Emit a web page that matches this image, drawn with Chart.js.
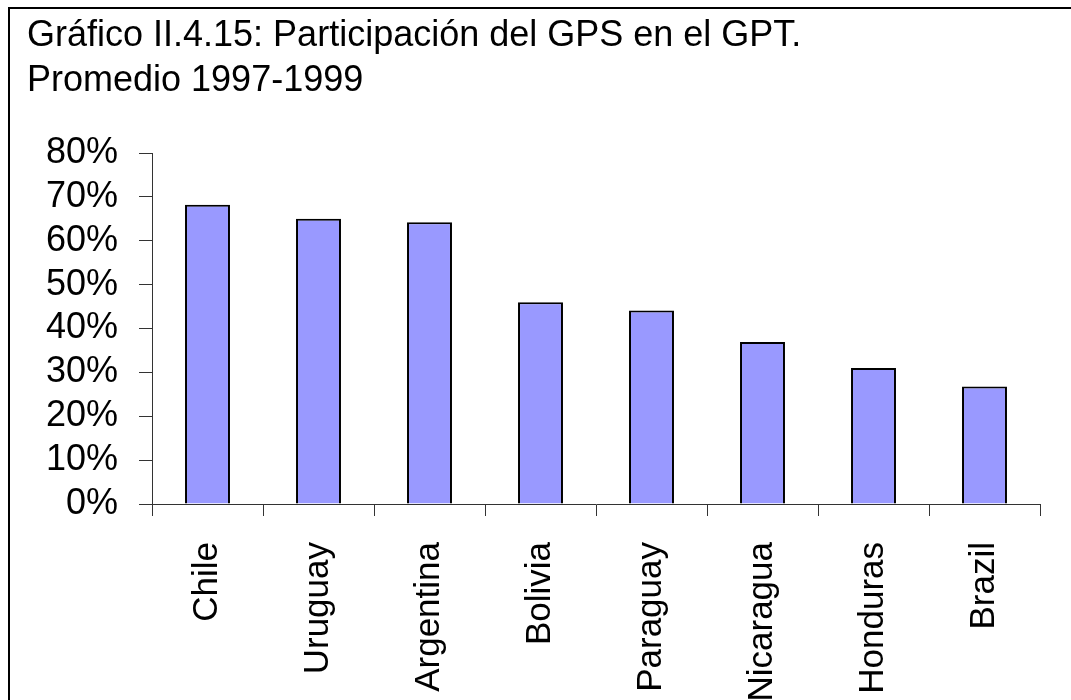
<!DOCTYPE html>
<html>
<head>
<meta charset="utf-8">
<script src="https://cdn.jsdelivr.net/npm/chart.js@4"></script>
<style>
  body { margin: 0; overflow: hidden; background: #fff; }
  #wrap { position: relative; width: 1071px; height: 700px; }
  #frame {
    position: absolute; left: 8px; top: 7px; width: 2000px; height: 2000px;
    border-left: 2px solid #000; border-top: 2px solid #000; pointer-events: none;
  }
</style>
</head>
<body>
<div id="wrap">
  <canvas id="gpsChart" width="1071" height="700"></canvas>
  <div id="frame"></div>
</div>
<script>
const titleLines = ["Gráfico II.4.15: Participación del GPS en el GPT.", "Promedio 1997-1999"];
const countries = ["Chile", "Uruguay", "Argentina", "Bolivia", "Paraguay", "Nicaragua", "Honduras", "Brazil"];
const shareGPS = [68.2, 65.0, 64.2, 46.0, 44.1, 36.9, 31.0, 26.8];
const yTicks = [0, 10, 20, 30, 40, 50, 60, 70, 80];

const fontFamily = "'Liberation Sans', Arial, sans-serif";

const ctx = document.getElementById("gpsChart").getContext("2d");

const chart = new Chart(ctx, {
  type: "bar",
  data: {
    labels: countries,
    datasets: [
      {
        data: shareGPS,
        backgroundColor: "#9999FF",
        borderColor: "#000000",
        borderWidth: 2,
        barPercentage: 0.405,
        categoryPercentage: 1.0,
      },
    ],
  },
  options: {
    responsive: false,
    animation: false,
    layout: {
      padding: { left: 27, right: 31, top: 0, bottom: 0 },
    },
    plugins: {
      legend: { display: false },
      tooltip: { enabled: false },
      title: {
        display: true,
        text: titleLines,
        align: "start",
        color: "#000",
        font: { family: fontFamily, size: 36, weight: "normal", lineHeight: 1.25 },
        padding: { top: 14, bottom: 49 },
      },
    },
    scales: {
      x: {
        grid: {
          offset: true,
          drawOnChartArea: false,
          drawTicks: true,
          tickLength: 12,
          color: "#333",
        },
        border: { color: "#333", width: 1 },
        ticks: {
          color: "#000",
          font: { family: fontFamily, size: 35 },
          minRotation: 90,
          maxRotation: 90,
          padding: 26,
          autoSkip: false,
        },
        afterFit: (scale) => {
          scale.height = 196;
        },
      },
      y: {
        min: 0,
        max: 80,
        afterBuildTicks: (scale) => {
          scale.ticks = yTicks.map((v) => ({ value: v }));
        },
        grid: {
          drawOnChartArea: false,
          drawTicks: true,
          tickLength: 13,
          color: "#333",
        },
        border: { color: "#333", width: 1 },
        ticks: {
          color: "#000",
          font: { family: fontFamily, size: 36 },
          padding: 21,
          autoSkip: false,
          callback: (v) => v + "%",
        },
        afterFit: (scale) => {
          scale.width = 125;
        },
      },
    },
  },
});
</script>
</body>
</html>
